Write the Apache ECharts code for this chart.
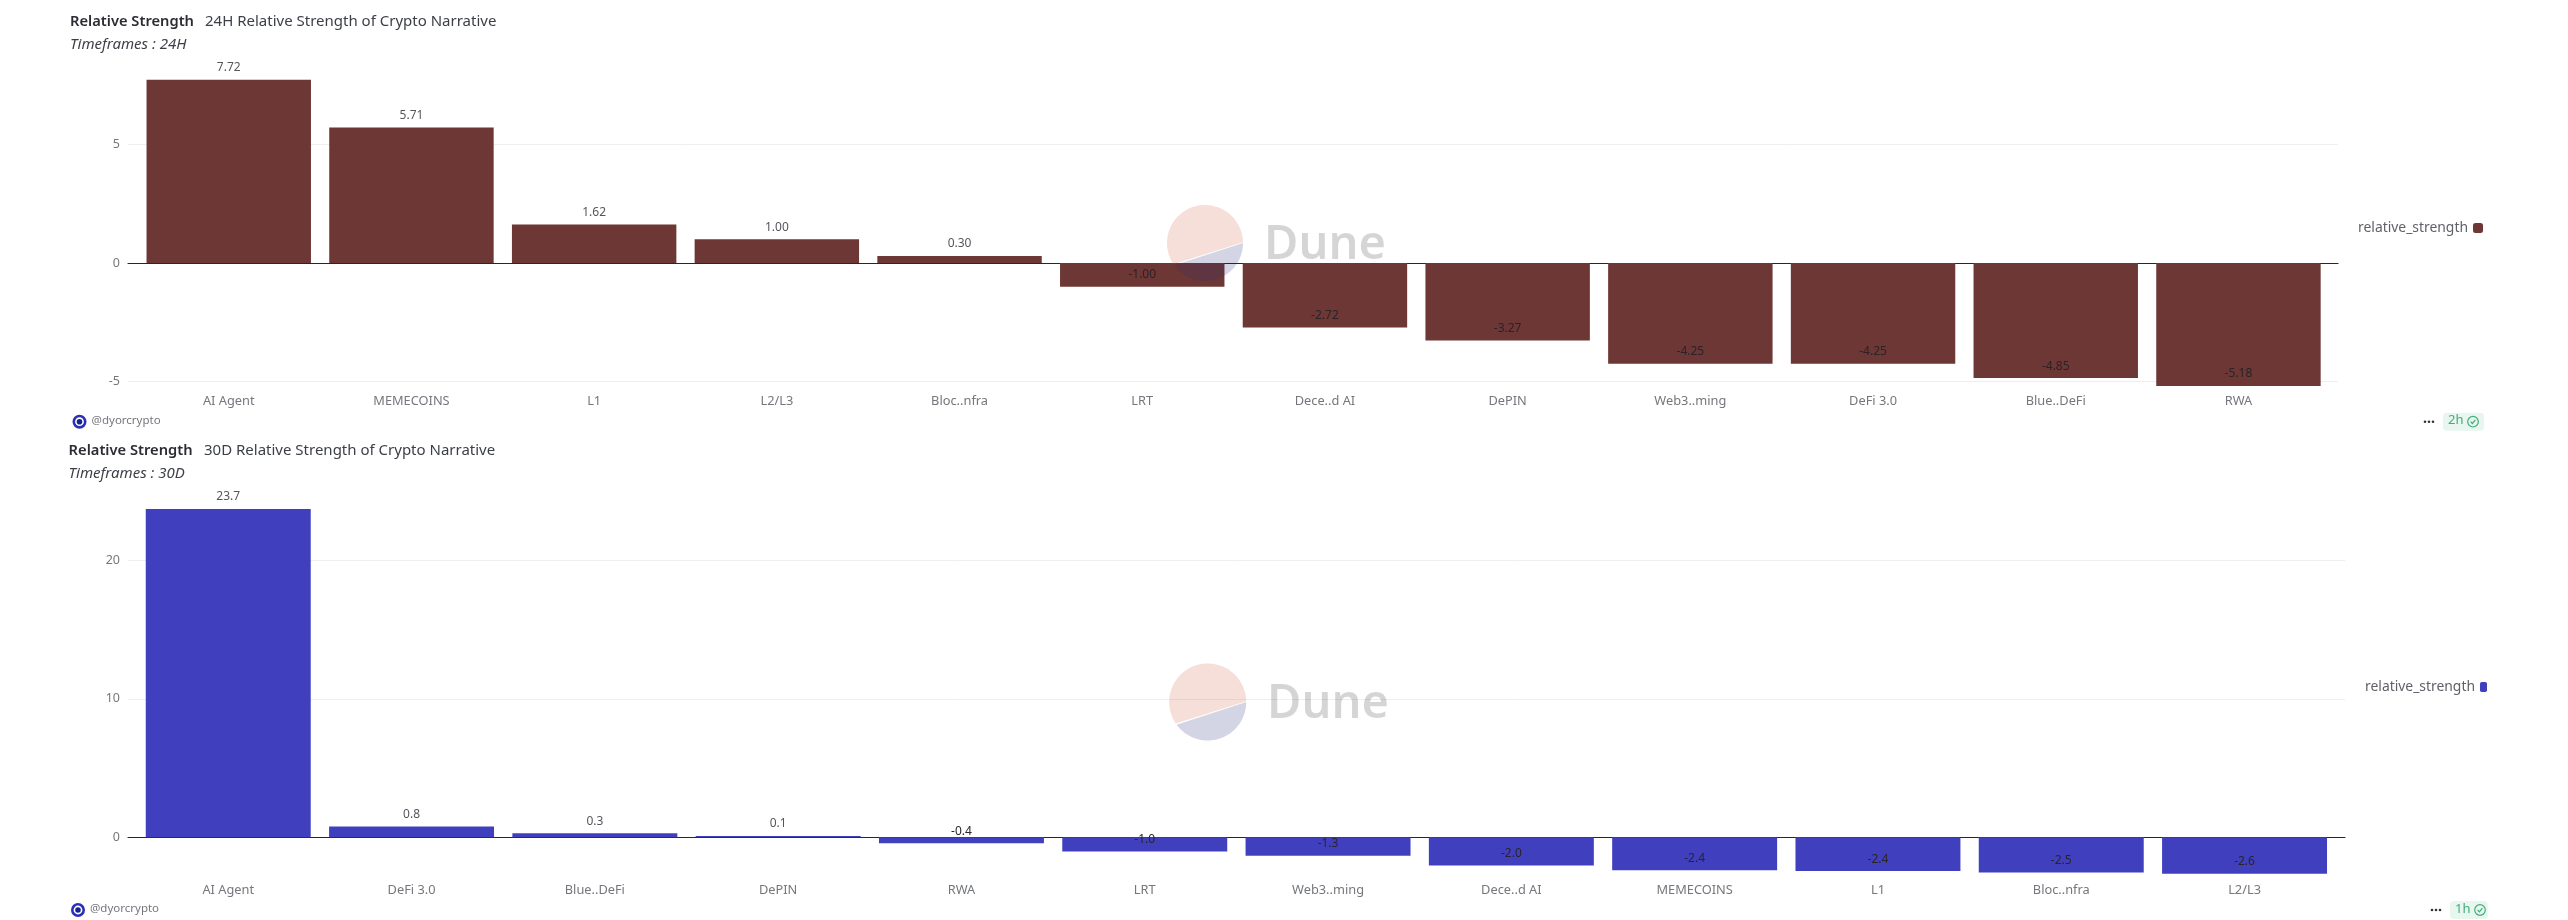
<!DOCTYPE html>
<html>
<head>
<meta charset="utf-8">
<title>Relative Strength</title>
<style>html,body{margin:0;padding:0;background:#fff}#chart{width:2568px;height:920px}</style>
<script src="https://cdn.jsdelivr.net/npm/echarts@6/dist/echarts.min.js"></script>
</head>
<body>
<div id="chart"></div>
<script>
const categories24h = ['AI Agent','MEMECOINS','L1','L2/L3','Bloc..nfra','LRT','Dece..d AI','DePIN','Web3..ming','DeFi 3.0','Blue..DeFi','RWA'];
const values24h = [7.72,5.71,1.62,1.00,0.30,-1.00,-2.72,-3.27,-4.25,-4.25,-4.85,-5.18];
const ticks24h = [-5,0,5];
const categories30d = ['AI Agent','DeFi 3.0','Blue..DeFi','DePIN','RWA','LRT','Web3..ming','Dece..d AI','MEMECOINS','L1','Bloc..nfra','L2/L3'];
const values30d = [23.7,0.78,0.29,0.1,-0.43,-1.02,-1.34,-2.04,-2.38,-2.44,-2.54,-2.64];
const ticks30d = [0,10,20];
const seriesName = 'relative_strength';
const FONT = '"Noto Sans", sans-serif';
const BROWN = '#6d3735', BLUE = '#4040bf';
const GRAY = '#74777c';

function titleBlock(y1, y2, x1, x2, main, sub) {
  return [
    {text:'Relative Strength',left:x1,top:y1-7,padding:0,textStyle:{fontFamily:FONT,fontSize:14.7,fontWeight:600,color:'#2b2d33'}},
    {text:main,left:x2,top:y1-7,padding:0,textStyle:{fontFamily:FONT,fontSize:15,fontWeight:400,color:'#3c3f46'}},
    {text:sub,left:x1,top:y2-7,padding:0,textStyle:{fontFamily:FONT,fontSize:15,fontWeight:400,fontStyle:'italic',color:'#3c3f46'}}
  ];
}
function arcPoints(cx, cy, r, fromDeg, toDeg) {
  const pts = [];
  for (let d = fromDeg; d <= toDeg; d += 3) {
    const a = d*Math.PI/180;
    pts.push([cx + r*Math.cos(a), cy + r*Math.sin(a)]);
  }
  return pts;
}
function watermark(cx, cy, r, tx, ty) {
  return [
    {type:'polygon',z:50,silent:true,shape:{points:arcPoints(cx,cy,r,146,360)},style:{fill:'rgba(210,95,60,0.2)'}},
    {type:'polygon',z:50,silent:true,shape:{points:arcPoints(cx,cy,r,0,146)},style:{fill:'rgba(40,45,120,0.2)'}},
    {type:'text',z:50,silent:true,left:tx,top:ty,style:{text:'Dune',font:'600 47px '+FONT,fill:'rgba(0,0,0,0.165)'}}
  ];
}
function footer(xLogo, yLogo, xText, xDots, xBadge, wBadge, xAge, xCheck, age) {
  const cy = yLogo;
  const dots = [-4,0,4].map(d => ({type:'circle',shape:{cx:xDots+d,cy,r:1.3},style:{fill:'#333'}}));
  return [
    {type:'circle',shape:{cx:xLogo,cy,r:7},style:{fill:'#2a2fb8'}},
    {type:'circle',shape:{cx:xLogo,cy,r:3.6},style:{fill:'#1a1f90',stroke:'#fff',lineWidth:1.6}},
    {type:'text',left:xText,top:cy-7,style:{text:'@dyorcrypto',font:'11.5px '+FONT,fill:GRAY}},
    ...dots,
    {type:'rect',shape:{x:xBadge,y:cy-9,width:wBadge,height:18,r:4},style:{fill:'#e7f6ee'}},
    {type:'text',left:xAge,top:cy-7.5,style:{text:age,font:'13px '+FONT,fill:'#43ad7c'}},
    {type:'circle',shape:{cx:xCheck,cy,r:5.3},style:{fill:'none',stroke:'#43ad7c',lineWidth:1.2}},
    {type:'polyline',shape:{points:[[xCheck-2.4,cy],[xCheck-0.6,cy+1.8],[xCheck+2.4,cy-1.8]]},style:{fill:'none',stroke:'#43ad7c',lineWidth:1.2}}
  ];
}
function valueLabel(decimals) {
  return (v) => ({
    value: v,
    label: {
      position: v < 0 ? 'insideBottom' : 'top',
      distance: 6,
      color: v < 0 ? '#2a2328' : '#55565c',
      formatter: () => v.toFixed(decimals)
    }
  });
}
function wideY(gridIndex, min, max, ticks) {
  return {
    type:'value',gridIndex,min,max,
    axisLine:{show:false},
    axisTick:{show:false,customValues:ticks},
    axisLabel:{customValues:ticks,margin:8,fontFamily:FONT,fontSize:12.5,color:GRAY},
    splitLine:{show:true,lineStyle:{color:'#eeeeef',width:1}}
  };
}
function wideX(gridIndex) {
  return {
    type:'value',gridIndex,min:0,max:1,
    axisLine:{show:true,onZero:true,lineStyle:{color:'#26262b',width:1.2}},
    axisTick:{show:false},axisLabel:{show:false},splitLine:{show:false}
  };
}
function bandX(gridIndex, cats, margin) {
  return {
    type:'category',gridIndex,data:cats,
    axisLine:{show:false,onZero:false},axisTick:{show:false},
    axisLabel:{interval:0,margin,fontFamily:FONT,fontSize:12.8,color:GRAY},
    splitLine:{show:false}
  };
}
function bandY(gridIndex, min, max) {
  return {type:'value',gridIndex,min,max,show:false,splitLine:{show:false}};
}
function barSeries(xi, vals, color, decimals) {
  return {
    type:'bar',name:seriesName,xAxisIndex:xi,yAxisIndex:xi,barWidth:'90%',
    data:vals.map(valueLabel(decimals)),
    itemStyle:{color},
    label:{show:true,fontFamily:FONT,fontSize:12},
    emphasis:{disabled:true},silent:true
  };
}
function legendFor(left, top, color, w) {
  return {
    left,top,orient:'horizontal',align:'right',padding:0,
    selectedMode:false,itemWidth:w,itemHeight:10,icon:'roundRect',
    textStyle:{fontFamily:FONT,fontSize:13.9,color:'#5f6268'},
    data:[{name:seriesName,itemStyle:{color}}]
  };
}

const chart = echarts.init(document.getElementById('chart'),null,{renderer:'canvas'});
chart.setOption({
  animation:false,
  backgroundColor:'#fff',
  title:[
    ...titleBlock(21,44,70,205,'24H Relative Strength of Crypto Narrative','Timeframes : 24H'),
    ...titleBlock(450,473,68.6,204,'30D Relative Strength of Crypto Narrative','Timeframes : 30D')
  ],
  legend:[legendFor(2358,221,BROWN,10),legendFor(2365,680,BLUE,7)],
  grid:[
    {left:128,width:2210,top:73.2,height:320.3,outerBoundsMode:'none'},
    {left:137.4,width:2192.4,top:73.2,height:320.3,outerBoundsMode:'none'},
    {left:128,width:2217,top:504.9,height:373.95,outerBoundsMode:'none'},
    {left:136.6,width:2199.6,top:504.9,height:373.95,outerBoundsMode:'none'}
  ],
  xAxis:[wideX(0),bandX(1,categories24h,1.5),wideX(2),bandX(3,categories30d,5)],
  yAxis:[wideY(0,-5.5,8,ticks24h),bandY(1,-5.5,8),wideY(2,-3,24,ticks30d),bandY(3,-3,24)],
  series:[barSeries(1,values24h,BROWN,2),barSeries(3,values30d,BLUE,1)],
  graphic:{elements:[
    ...watermark(1205,243,38,1264,222),
    ...watermark(1207.7,702,38.5,1267,681),
    ...footer(79.5,421.7,91.6,2429,2443,41,2448,2473,'2h'),
    ...footer(78,910,90,2436,2450,37.7,2455,2480,'1h')
  ]}
});
</script>
</body>
</html>
